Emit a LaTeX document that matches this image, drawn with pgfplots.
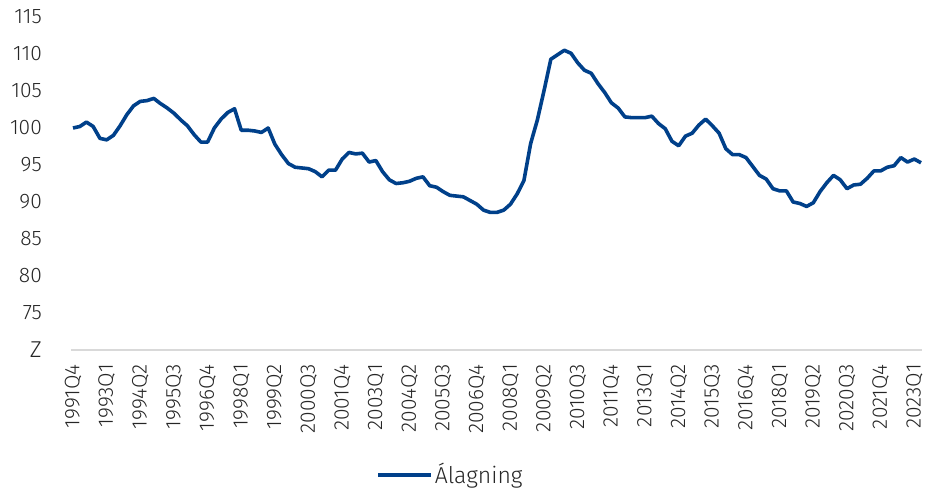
\documentclass[border=0pt]{standalone}
\usepackage{pgfplots}
\pgfplotsset{compat=1.18}
\usepackage{fontspec}
\setmainfont{Fira Sans}[UprightFont={* Light}]
\definecolor{lineblue}{HTML}{00408A}
\definecolor{axgray}{HTML}{D9D9D9}
\definecolor{txt}{HTML}{262626}
\begin{document}
\fontsize{21bp}{25bp}\selectfont
\begin{tikzpicture}
\begin{axis}[
  at={(0,0)}, anchor=south west,
  scale only axis,
  width=848bp, height=333bp,
  xmin=0, xmax=126, ymin=70, ymax=115,
  axis x line*=bottom, axis y line*=left,
  x axis line style={draw=axgray, line width=1.5bp, shorten <=-2bp, shorten >=-1bp},
  y axis line style={draw=none},
  major tick length=0pt,
  xtick={0,5,...,125},
  xticklabels={1991Q4,1993Q1,1994Q2,1995Q3,1996Q4,1998Q1,1999Q2,2000Q3,2001Q4,2003Q1,2004Q2,2005Q3,2006Q4,2008Q1,2009Q2,2010Q3,2011Q4,2013Q1,2014Q2,2015Q3,2016Q4,2018Q1,2019Q2,2020Q3,2021Q4,2023Q1},
  xticklabel style={rotate=90, anchor=east, inner sep=0bp, font=\fontsize{21bp}{25bp}\selectfont, text=txt, xshift=-14bp},
  ytick={70,75,...,115},
  yticklabels={{\fontsize{23bp}{24bp}\selectfont Z},75,80,85,90,95,100,105,110,115},
  yticklabel style={anchor=east, font=\fontsize{21bp}{25bp}\selectfont, text=txt, xshift=-24bp},
  legend style={at={(0.445,-0.375)}, anchor=center, draw=none, fill=none,
    font=\fontsize{23bp}{26bp}\selectfont, text=txt,
    /tikz/every even column/.append style={column sep=0bp}},
  legend image code/.code={\draw[#1, line width=3.6bp] (0bp,0bp) -- (53bp,0bp);},
  clip=false,
]
\addplot[lineblue, line width=3.6bp, line join=round] table[x=i, y=v] {
i v
0 100.0
1 100.2
2 100.8
3 100.2
4 98.6
5 98.4
6 99.0
7 100.3
8 101.8
9 103.0
10 103.6
11 103.7
12 104.0
13 103.3
14 102.7
15 102.0
16 101.1
17 100.3
18 99.1
19 98.1
20 98.1
21 100.0
22 101.2
23 102.1
24 102.6
25 99.7
26 99.7
27 99.6
28 99.4
29 100.0
30 97.8
31 96.4
32 95.2
33 94.7
34 94.6
35 94.5
36 94.1
37 93.4
38 94.3
39 94.3
40 95.8
41 96.7
42 96.5
43 96.6
44 95.4
45 95.6
46 94.1
47 93.0
48 92.5
49 92.6
50 92.8
51 93.2
52 93.4
53 92.2
54 92.0
55 91.4
56 90.9
57 90.8
58 90.7
59 90.2
60 89.7
61 88.9
62 88.6
63 88.6
64 88.9
65 89.7
66 91.1
67 92.9
68 97.9
69 101.1
70 105.1
71 109.3
72 109.9
73 110.5
74 110.1
75 108.8
76 107.8
77 107.4
78 106.0
79 104.8
80 103.4
81 102.7
82 101.5
83 101.4
84 101.4
85 101.4
86 101.6
87 100.6
88 99.9
89 98.2
90 97.6
91 98.9
92 99.3
93 100.4
94 101.2
95 100.3
96 99.3
97 97.2
98 96.4
99 96.4
100 96.0
101 94.8
102 93.6
103 93.1
104 91.8
105 91.5
106 91.5
107 90.0
108 89.8
109 89.4
110 89.9
111 91.4
112 92.6
113 93.6
114 93.0
115 91.8
116 92.3
117 92.4
118 93.2
119 94.2
120 94.2
121 94.7
122 94.9
123 96.0
124 95.4
125 95.8
126 95.3
};
\addlegendentry{Álagning}
\end{axis}
\pgfresetboundingbox
\path (-73bp,-138bp) rectangle (852bp,350bp);
\end{tikzpicture}
\end{document}
